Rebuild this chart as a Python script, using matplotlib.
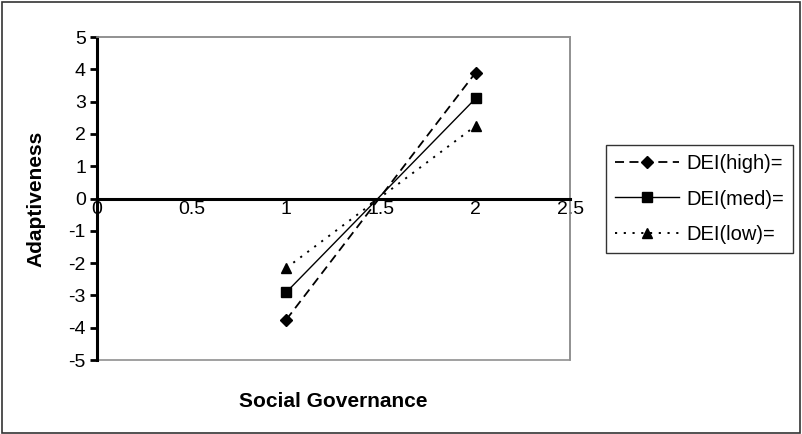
import matplotlib.pyplot as plt
from matplotlib.patches import Rectangle

plt.rcParams['font.family'] = ['Liberation Sans', 'DejaVu Sans']
plt.rcParams['axes.unicode_minus'] = False

x_vals = [1, 2]
dei_high = [-3.75, 3.9]
dei_med = [-2.9, 3.1]
dei_low = [-2.15, 2.25]
labels = ['DEI(high)=', 'DEI(med)=', 'DEI(low)=']
x_ticks = [0, 0.5, 1, 1.5, 2, 2.5]
y_ticks = list(range(-5, 6))

fig = plt.figure(figsize=(8.02, 4.34), dpi=100)
ax = fig.add_axes([0.121, 0.1705, 0.590, 0.744])

ax.plot(x_vals, dei_high, 'k-', marker='D', ms=6, lw=1.3, dashes=(5, 3), label=labels[0])
ax.plot(x_vals, dei_med, 'k-', marker='s', ms=6.5, lw=1, label=labels[1])
ax.plot(x_vals, dei_low, 'k-', marker='^', ms=7.5, lw=1.4, dashes=(1.1, 3.4), label=labels[2])

ax.set_xlim(0, 2.5)
ax.set_ylim(-5, 5)
ax.set_xticks(x_ticks)
ax.set_xticklabels(['0', '0.5', '1', '1.5', '2', '2.5'])
ax.set_yticks(y_ticks)

ax.spines['bottom'].set_position(('data', 0))
ax.spines['bottom'].set_linewidth(2.2)
ax.spines['left'].set_linewidth(2.2)
for s in ['top', 'right']:
    ax.spines[s].set_color('#909090')
    ax.spines[s].set_linewidth(1.2)
ax.add_patch(Rectangle((0, 0), 1, 1, transform=ax.transAxes, fill=False,
                       edgecolor='#909090', lw=1.2, clip_on=False, zorder=0))

ax.tick_params(axis='x', length=0, labelsize=14, pad=2)
ax.tick_params(axis='y', length=5, width=2, labelsize=14, direction='out', pad=3)

ax.set_xlabel('Social Governance', fontsize=15, fontweight='bold')
ax.set_ylabel('Adaptiveness', fontsize=15, fontweight='bold')
ax.xaxis.set_label_coords(0.5, -0.1)
ax.yaxis.set_label_coords(-0.11, 0.5)

leg = fig.legend(loc='upper left', bbox_to_anchor=(0.7556, 0.666), fontsize=14.5,
                 frameon=True, fancybox=False, edgecolor='black', handlelength=3.2,
                 labelspacing=0.82, borderaxespad=0, handletextpad=0.35,
                 borderpad=0.45)
leg.get_frame().set_linewidth(1)

fig.patches.append(Rectangle((0.002, 0.003), 0.995, 0.993, transform=fig.transFigure,
                             fill=False, edgecolor='#333333', lw=1.2))

fig.savefig('out.png', dpi=100)
